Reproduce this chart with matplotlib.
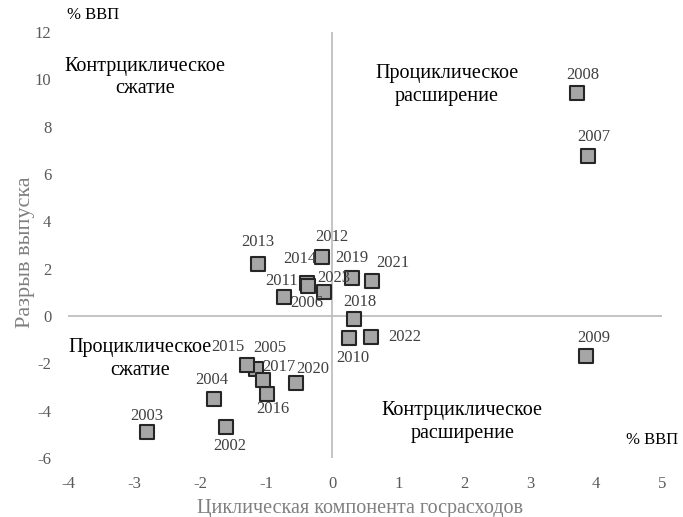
import matplotlib
matplotlib.use('Agg')
import matplotlib.pyplot as plt

plt.rcParams['font.family'] = ['Liberation Serif', 'DejaVu Serif']
plt.rcParams['axes.unicode_minus'] = False

# данные: циклическая компонента госрасходов (x) и разрыв выпуска (y)
years = ['2002', '2003', '2004', '2005', '2006', '2007', '2008', '2009', '2010', '2011',
         '2012', '2013', '2014', '2015', '2016', '2017', '2018', '2019', '2020', '2021',
         '2022', '2023']
gov_cycle = [-1.61, -2.80, -1.79, -1.15, -0.12, 3.88, 3.71, 3.85, 0.26, -0.73,
             -0.15, -1.12, -0.38, -1.29, -0.98, -1.05, 0.33, 0.30, -0.55, 0.61,
             0.59, -0.36]
output_gap = [-4.69, -4.90, -3.51, -2.24, 1.01, 6.76, 9.42, -1.69, -0.93, 0.80,
              2.49, 2.20, 1.38, -2.07, -3.30, -2.70, -0.13, 1.60, -2.83, 1.48,
              -0.89, 1.28]

# смещения подписей (пиксели)
offsets = {'2002': (4, -19), '2003': (-1, 16), '2004': (-2, 19), '2005': (14, 21),
           '2006': (-17, -11), '2007': (5, 19), '2008': (6, 18), '2009': (7, 18),
           '2010': (3, -20), '2011': (-2, 16), '2012': (10, 20), '2013': (0, 22),
           '2014': (-7, 24), '2015': (-19, 18), '2016': (5, -15), '2017': (16, 13),
           '2018': (6, 17), '2019': (0, 20), '2020': (17, 14), '2021': (20, 18),
           '2022': (34, 0), '2023': (25, 8)}

fig = plt.figure(figsize=(6.83, 5.17), dpi=100)
ax = fig.add_axes([0.0996, 0.114, 0.8701, 0.824])

ax.axhline(0, color='#bfbfbf', lw=1.3, zorder=1)
ax.axvline(0, color='#bfbfbf', lw=1.3, zorder=1)

ax.scatter(gov_cycle, output_gap, s=105, marker='s', facecolor='#a6a6a6',
           edgecolor='#262626', linewidth=1.5, zorder=3)

for yr, x, y in zip(years, gov_cycle, output_gap):
    dx, dy = offsets[yr]
    ax.annotate(yr, (x, y), xytext=(dx * 0.72, dy * 0.72), textcoords='offset points',
                ha='center', va='center', fontsize=12, color='#404040', zorder=4)

ax.set_xlim(-4, 5)
ax.set_ylim(-6, 12)
ax.set_xticks(range(-4, 6))
ax.set_yticks(range(-6, 13, 2))
ax.tick_params(length=0, labelsize=12, labelcolor='#595959')
ax.tick_params(axis='x', pad=13)
ax.tick_params(axis='y', pad=12)
for s in ax.spines.values():
    s.set_visible(False)

fig.text(0.527, 0.017, 'Циклическая компонента госрасходов', fontsize=14.5,
         color='#7f7f7f', ha='center', va='center')
fig.text(0.037, 0.513, 'Разрыв выпуска', fontsize=16, color='#7f7f7f',
         ha='center', va='center', rotation=90)

quad = dict(fontsize=14.5, color='black', ha='center', va='center', linespacing=1.25)
ax.text(-2.83, 10.08, 'Контрциклическое\nсжатие', **quad)
ax.text(1.74, 9.76, 'Проциклическое\nрасширение', **quad)
ax.text(-2.91, -1.82, 'Проциклическое\nсжатие', **quad)
ax.text(1.97, -4.48, 'Контрциклическое\nрасширение', **quad)

fig.text(0.098, 0.971, '% ВВП', fontsize=12, color='black', ha='left', va='center')
fig.text(0.916, 0.149, '% ВВП', fontsize=12, color='black', ha='left', va='center')

fig.savefig('out.png', dpi=100)
